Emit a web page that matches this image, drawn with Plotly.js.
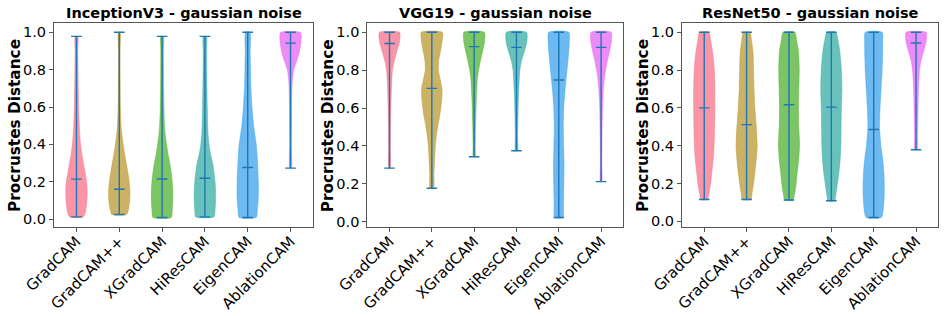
<!DOCTYPE html>
<html>
<head>
<meta charset="utf-8">
<script src="https://cdn.plot.ly/plotly-3.0.1.min.js"></script>
<style>html,body{margin:0;padding:0;background:#fff;} #chart{width:947px;height:316px;}</style>
</head>
<body>
<div id="chart"></div>
<script>
// ---------------- data ----------------
const methods = ['GradCAM', 'GradCAM++', 'XGradCAM', 'HiResCAM', 'EigenCAM', 'AblationCAM'];
const modelTitles = ['InceptionV3 - gaussian noise', 'VGG19 - gaussian noise', 'ResNet50 - gaussian noise'];
const yTickVals = [0.0, 0.2, 0.4, 0.6, 0.8, 1.0];

// InceptionV3
const incMin  = [0.012, 0.025, 0.009, 0.012, 0.009, 0.273];
const incMax  = [0.978, 1.0, 0.978, 0.978, 1.0, 1.0];
const incMean = [0.214, 0.160, 0.215, 0.219, 0.276, 0.942];
const incProfY = [
  [0.012, 0.05, 0.1, 0.15, 0.2, 0.25, 0.3, 0.35, 0.4, 0.5, 0.6, 0.7, 0.8, 0.9, 0.978],
  [0.025, 0.05, 0.1, 0.15, 0.2, 0.25, 0.3, 0.35, 0.4, 0.45, 0.5, 0.6, 0.7, 0.8, 0.9, 1.0],
  [0.009, 0.05, 0.1, 0.15, 0.2, 0.25, 0.3, 0.35, 0.4, 0.45, 0.5, 0.6, 0.7, 0.8, 0.9, 0.978],
  [0.012, 0.05, 0.1, 0.15, 0.2, 0.25, 0.3, 0.35, 0.4, 0.45, 0.5, 0.6, 0.7, 0.8, 0.9, 0.978],
  [0.009, 0.05, 0.1, 0.15, 0.2, 0.3, 0.4, 0.5, 0.6, 0.7, 0.8, 0.9, 1.0],
  [0.273, 0.4, 0.5, 0.6, 0.7, 0.75, 0.8, 0.85, 0.9, 0.95, 0.98, 1.0]
];
const incProfW = [
  [0.65, 0.88, 0.98, 1.0, 0.95, 0.8, 0.65, 0.5, 0.38, 0.26, 0.2, 0.17, 0.15, 0.13, 0.12],
  [0.7, 0.85, 0.98, 1.0, 0.93, 0.8, 0.65, 0.5, 0.36, 0.25, 0.17, 0.11, 0.09, 0.08, 0.08, 0.08],
  [0.85, 0.95, 1.0, 1.0, 0.95, 0.85, 0.72, 0.55, 0.42, 0.3, 0.23, 0.17, 0.14, 0.13, 0.12, 0.12],
  [0.85, 0.95, 1.0, 1.0, 0.95, 0.85, 0.72, 0.52, 0.38, 0.3, 0.26, 0.22, 0.19, 0.17, 0.16, 0.15],
  [0.8, 0.9, 0.98, 1.0, 0.99, 0.92, 0.8, 0.55, 0.4, 0.3, 0.26, 0.23, 0.2],
  [0.08, 0.08, 0.09, 0.1, 0.13, 0.18, 0.3, 0.6, 0.85, 0.98, 1.0, 0.92]
];

// VGG19
const vggMin  = [0.283, 0.177, 0.343, 0.375, 0.023, 0.212];
const vggMax  = [1.0, 1.0, 1.0, 1.0, 1.0, 1.0];
const vggMean = [0.941, 0.704, 0.924, 0.920, 0.748, 0.920];
const vggProfY = [
  [0.283, 0.4, 0.5, 0.6, 0.7, 0.75, 0.8, 0.85, 0.9, 0.95, 0.98, 1.0],
  [0.177, 0.25, 0.3, 0.35, 0.4, 0.45, 0.5, 0.55, 0.6, 0.65, 0.7, 0.75, 0.8, 0.85, 0.9, 0.95, 1.0],
  [0.343, 0.4, 0.5, 0.6, 0.65, 0.7, 0.75, 0.8, 0.85, 0.9, 0.95, 1.0],
  [0.375, 0.45, 0.55, 0.65, 0.7, 0.75, 0.8, 0.85, 0.9, 0.95, 1.0],
  [0.023, 0.1, 0.2, 0.3, 0.4, 0.5, 0.6, 0.7, 0.8, 0.9, 0.95, 1.0],
  [0.212, 0.3, 0.4, 0.5, 0.6, 0.65, 0.7, 0.75, 0.8, 0.85, 0.9, 0.95, 1.0]
];
const vggProfW = [
  [0.07, 0.08, 0.1, 0.13, 0.18, 0.22, 0.28, 0.45, 0.7, 0.95, 1.0, 0.95],
  [0.17, 0.2, 0.24, 0.28, 0.33, 0.42, 0.55, 0.72, 0.85, 0.95, 0.97, 0.8, 0.62, 0.65, 0.82, 0.97, 1.0],
  [0.08, 0.1, 0.13, 0.18, 0.21, 0.25, 0.3, 0.42, 0.6, 0.8, 0.98, 0.97],
  [0.1, 0.11, 0.14, 0.18, 0.22, 0.26, 0.32, 0.48, 0.75, 0.98, 0.95],
  [0.38, 0.44, 0.48, 0.5, 0.46, 0.43, 0.47, 0.6, 0.78, 0.95, 1.0, 0.95],
  [0.07, 0.07, 0.08, 0.1, 0.13, 0.17, 0.22, 0.29, 0.42, 0.6, 0.8, 0.97, 0.95]
];

// ResNet50
const resMin  = [0.115, 0.115, 0.112, 0.108, 0.020, 0.378];
const resMax  = [1.0, 1.0, 1.0, 1.0, 1.0, 1.0];
const resMean = [0.600, 0.511, 0.616, 0.604, 0.485, 0.943];
const resProfY = [
  [0.115, 0.15, 0.2, 0.25, 0.3, 0.35, 0.4, 0.5, 0.6, 0.7, 0.8, 0.85, 0.9, 0.95, 1.0],
  [0.115, 0.15, 0.2, 0.25, 0.3, 0.35, 0.4, 0.45, 0.5, 0.6, 0.7, 0.8, 0.9, 0.95, 1.0],
  [0.112, 0.15, 0.2, 0.25, 0.3, 0.35, 0.4, 0.45, 0.5, 0.6, 0.7, 0.8, 0.9, 0.95, 1.0],
  [0.108, 0.15, 0.2, 0.25, 0.3, 0.35, 0.4, 0.5, 0.6, 0.7, 0.8, 0.9, 0.95, 1.0],
  [0.020, 0.05, 0.1, 0.15, 0.2, 0.25, 0.3, 0.35, 0.4, 0.5, 0.6, 0.7, 0.8, 0.9, 0.95, 1.0],
  [0.378, 0.45, 0.5, 0.6, 0.7, 0.75, 0.8, 0.85, 0.9, 0.95, 0.98, 1.0]
];
const resProfW = [
  [0.3, 0.45, 0.6, 0.7, 0.8, 0.88, 0.93, 0.98, 1.0, 1.0, 0.95, 0.88, 0.78, 0.62, 0.45],
  [0.4, 0.52, 0.66, 0.77, 0.87, 0.95, 1.0, 0.97, 0.92, 0.78, 0.7, 0.66, 0.6, 0.48, 0.32],
  [0.38, 0.55, 0.68, 0.77, 0.87, 0.95, 1.0, 0.97, 0.92, 0.9, 0.93, 0.97, 0.9, 0.75, 0.55],
  [0.3, 0.45, 0.58, 0.7, 0.8, 0.86, 0.9, 0.92, 0.95, 1.0, 0.95, 0.8, 0.65, 0.42],
  [0.72, 0.88, 0.96, 1.0, 1.0, 0.97, 0.9, 0.8, 0.68, 0.55, 0.6, 0.7, 0.8, 0.85, 0.85, 0.8],
  [0.12, 0.14, 0.16, 0.19, 0.23, 0.27, 0.33, 0.47, 0.72, 0.95, 1.0, 0.95]
];

// ---------------- styling ----------------
const fillColors = ['rgba(247,113,137,0.75)', 'rgba(187,152,50,0.75)', 'rgba(80,177,49,0.75)',
                    'rgba(54,173,164,0.75)', 'rgba(59,163,236,0.75)', 'rgba(232,102,244,0.75)'];
const statColor = '#1f77b4';
const FONT = 'DejaVu Sans, sans-serif';

const models = [
  {min: incMin, max: incMax, mean: incMean, py: incProfY, pw: incProfW},
  {min: vggMin, max: vggMax, mean: vggMean, py: vggProfY, pw: vggProfW},
  {min: resMin, max: resMax, mean: resMean, py: resProfY, pw: resProfW}
];

const xDomains = [[54/947, 313/947], [367.3/947, 623.3/947], [682/947, 938.3/947]];
const yDomain = [1 - 226.7/316, 1 - 23/316];
const halfWidth = 0.25;   // matplotlib widths=0.5
const capHalf = 0.125;

const traces = [];
const layout = {
  width: 947, height: 316,
  margin: {l: 0, r: 0, t: 0, b: 0},
  paper_bgcolor: '#fff', plot_bgcolor: '#fff',
  showlegend: false,
  font: {family: FONT, color: '#000', size: 14},
  annotations: []
};

models.forEach((m, k) => {
  const xa = k === 0 ? 'x' : 'x' + (k + 1);
  const ya = k === 0 ? 'y' : 'y' + (k + 1);
  const pos = methods.map((_, i) => i + 1);

  // violin bodies
  pos.forEach((p, i) => {
    const ys = m.py[i], ws = m.pw[i];
    const xs = [], yy = [];
    for (let j = 0; j < ys.length; j++) { xs.push(p + halfWidth * ws[j]); yy.push(ys[j]); }
    for (let j = ys.length - 1; j >= 0; j--) { xs.push(p - halfWidth * ws[j]); yy.push(ys[j]); }
    xs.push(xs[0]); yy.push(yy[0]);
    traces.push({
      type: 'scatter', mode: 'lines', x: xs, y: yy, xaxis: xa, yaxis: ya,
      fill: 'toself', fillcolor: fillColors[i],
      line: {width: 0.6, color: fillColors[i], shape: 'spline', smoothing: 0.6},
      hoverinfo: 'skip'
    });
  });

  // bars, caps and mean lines
  const lx = [], ly = [];
  pos.forEach((p, i) => {
    lx.push(p, p, null); ly.push(m.min[i], m.max[i], null);
    lx.push(p - capHalf, p + capHalf, null); ly.push(m.min[i], m.min[i], null);
    lx.push(p - capHalf, p + capHalf, null); ly.push(m.max[i], m.max[i], null);
    lx.push(p - capHalf, p + capHalf, null); ly.push(m.mean[i], m.mean[i], null);
  });
  traces.push({type: 'scatter', mode: 'lines', x: lx, y: ly, xaxis: xa, yaxis: ya,
    line: {color: statColor, width: 1.4}, hoverinfo: 'skip'});

  const lo = Math.min(...m.min), hi = Math.max(...m.max);
  const pad = 0.05 * (hi - lo);
  const axisCommon = {
    showline: true, linecolor: '#555', linewidth: 1, mirror: true,
    showgrid: false, zeroline: false,
    ticks: 'outside', ticklen: 4, tickwidth: 1, tickcolor: '#555'
  };
  layout['xaxis' + (k === 0 ? '' : k + 1)] = Object.assign({}, axisCommon, {
    domain: xDomains[k], anchor: ya, range: [0.475, 6.525],
    tickmode: 'array', tickvals: pos, ticktext: methods, tickangle: -45,
    ticklabelstandoff: -5,
    tickfont: {family: FONT, size: 15, color: '#000'}
  });
  layout['yaxis' + (k === 0 ? '' : k + 1)] = Object.assign({}, axisCommon, {
    domain: yDomain, anchor: xa, range: [lo - pad, hi + pad],
    tickmode: 'array', tickvals: yTickVals, tickformat: '.1f',
    tickfont: {family: FONT, size: 14.5, color: '#000'}
  });

  // subplot title
  layout.annotations.push({
    text: '<b>' + modelTitles[k] + '</b>', xref: 'paper', yref: 'paper',
    x: (xDomains[k][0] + xDomains[k][1]) / 2, y: 1 - 13/316,
    xanchor: 'center', yanchor: 'middle', showarrow: false,
    font: {family: FONT, size: 14.5, color: '#000'}
  });
  // y axis title
  layout.annotations.push({
    text: '<b>Procrustes Distance</b>', xref: 'paper', yref: 'paper',
    x: (xDomains[k][0] * 947 - 39) / 947, y: 1 - 126/316,
    xanchor: 'center', yanchor: 'middle', textangle: -90, showarrow: false,
    font: {family: FONT, size: 15.3, color: '#000'}
  });
});

Plotly.newPlot('chart', traces, layout, {staticPlot: true, displayModeBar: false});
</script>
</body>
</html>
